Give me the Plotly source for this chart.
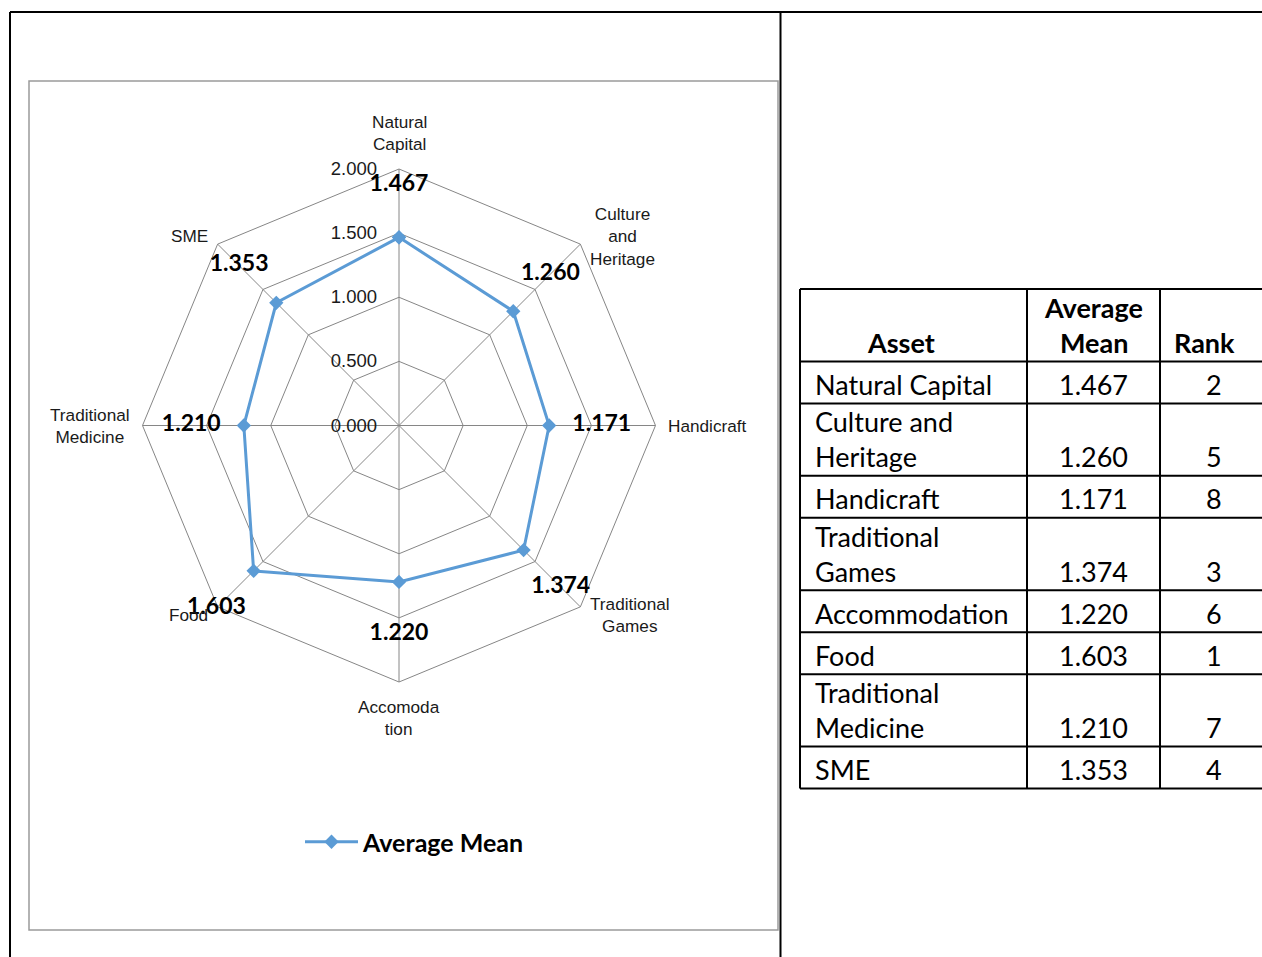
import math
import plotly.graph_objects as go

# ---- data -------------------------------------------------------------
axis_labels = ["Natural<br>Capital", "Culture<br>and<br>Heritage", "Handicraft",
               "Traditional<br>Games", "Accomoda<br>tion", "Food",
               "Traditional<br>Medicine", "SME"]
table_assets = ["Natural Capital", "Culture and<br>Heritage", "Handicraft",
                "Traditional<br>Games", "Accommodation", "Food",
                "Traditional<br>Medicine", "SME"]
avg_mean = [1.467, 1.260, 1.171, 1.374, 1.220, 1.603, 1.210, 1.353]
rank = [2, 5, 8, 3, 6, 1, 7, 4]
radial_ticks = [0.0, 0.5, 1.0, 1.5, 2.0]
radial_max = 2.0
header = ["Asset", "Average<br>Mean", "Rank"]

# ---- page geometry (pixels) -------------------------------------------
W, H = 1262, 957
BLUE = "#5B9BD5"
GRID = "#868686"
TXT = "#1a1a1a"
cx, cy, R = 399, 425.5, 256.5
overlay_k = 1.2   # label layer: same centre and scale, wider reach


def px(x):
    return x / W


def py(y):
    return 1 - y / H


def square_domain(radius):
    return dict(x=[px(cx - radius), px(cx + radius)],
                y=[py(cy + radius), py(cy - radius)])


fig = go.Figure()

# closed data polygon
fig.add_trace(go.Scatterpolar(
    r=avg_mean + avg_mean[:1],
    theta=axis_labels + axis_labels[:1],
    mode="lines+markers",
    name="Average Mean",
    line=dict(color=BLUE, width=3),
    marker=dict(symbol="diamond", size=11, color=BLUE),
))

# bold value labels pushed out along each spoke (drawn on the label layer)
label_offset = 0.41
fig.add_trace(go.Scatterpolar(
    r=[v + label_offset for v in avg_mean],
    theta=axis_labels,
    subplot="polar2",
    mode="text",
    text=[f"{v:.3f}" for v in avg_mean],
    textfont=dict(family="Lato", size=23, color="#000000", weight="bold"),
    textposition="middle center",
    showlegend=False,
    hoverinfo="skip",
))

angular_common = dict(type="category", categoryarray=axis_labels,
                      direction="clockwise", rotation=90)

fig.update_layout(
    width=W, height=H,
    margin=dict(l=0, r=0, t=0, b=0),
    paper_bgcolor="white",
    showlegend=True,
    legend=dict(orientation="h", x=px(300), y=py(842), xanchor="left",
                yanchor="middle", itemwidth=53,
                font=dict(family="Lato", size=25, color="#000000", weight="bold"),
                bgcolor="rgba(0,0,0,0)"),
    polar=dict(
        domain=square_domain(R),
        gridshape="linear",
        bgcolor="white",
        angularaxis=dict(
            **angular_common,
            showline=True, linecolor=GRID, linewidth=1,
            gridcolor=GRID, gridwidth=1, ticks="", showticklabels=False,
        ),
        radialaxis=dict(
            range=[0, radial_max], tickvals=radial_ticks, tickformat=".3f",
            angle=90, side="counterclockwise", showline=False,
            gridcolor=GRID, gridwidth=1, tickangle=90,
            ticks="outside", ticklen=15, tickcolor="rgba(0,0,0,0)",
            tickfont=dict(family="Liberation Sans", size=18.5, color=TXT),
        ),
    ),
    polar2=dict(
        domain=square_domain(R * overlay_k),
        gridshape="linear",
        bgcolor="rgba(0,0,0,0)",
        angularaxis=dict(**angular_common, visible=False),
        radialaxis=dict(range=[0, radial_max * overlay_k], visible=False),
    ),
)

annotations = []

# category names just outside each outer vertex
n_cat = len(axis_labels)
for k, lab in enumerate(axis_labels):
    ang = math.radians(90 - 360 * k / n_cat)
    c, s = math.cos(ang), math.sin(ang)
    vx, vy = cx + R * c, cy - R * s
    if abs(c) < 0.1:
        xa, xan = vx, "center"
        if s > 0:
            ya, yan = vy - 13, "bottom"
        else:
            ya, yan = vy + 13, "top"
    else:
        xa = vx + 10.5 * c
        xan = "left" if c > 0 else "right"
        ya, yan = vy - 11 * s, "middle"
    annotations.append(dict(xref="paper", yref="paper", x=px(xa), y=py(ya),
                            xanchor=xan, yanchor=yan, align="center", text=lab,
                            showarrow=False,
                            font=dict(family="Liberation Sans", size=17.2, color=TXT)))

shapes = []
# page frame
for x0, y0, x1, y1 in [(10, 12, 1262, 12), (10, 12, 10, 957), (780.5, 12, 780.5, 957)]:
    shapes.append(dict(type="line", xref="paper", yref="paper",
                       x0=px(x0), y0=py(y0), x1=px(x1), y1=py(y1),
                       line=dict(color="#000000", width=2)))
# chart area border
shapes.append(dict(type="rect", xref="paper", yref="paper",
                   x0=px(29), y0=py(930), x1=px(778), y1=py(81),
                   line=dict(color="#9a9a9a", width=1.5)))

# ---- table ------------------------------------------------------------
col_edges = [800, 1027, 1160, 1270]
tbl_top = 289
line_step = 35
TFONT = dict(family="Lato", size=27, color="#000000")


def row_height(n):
    return 11.6 + 30.4 * n


rows = [(header, True)] + [
    ([a, f"{m:.3f}", str(k)], False) for a, m, k in zip(table_assets, avg_mean, rank)
]
y = tbl_top
row_tops = []
for cells, is_head in rows:
    n = max(c.count("<br>") + 1 for c in cells)
    h = row_height(n)
    row_tops.append(y)
    bottom = y + h
    for ci, cell in enumerate(cells):
        lines = cell.split("<br>")
        # text sits on the bottom of its cell
        for li, txt in enumerate(lines):
            yc = bottom - 19 - line_step * (len(lines) - 1 - li)
            if ci == 0 and not is_head:
                xa, anchor = col_edges[0] + 13, "left"
            elif ci == 2 and is_head:
                xa, anchor = col_edges[2] + 12, "left"
            elif ci == 0:
                xa, anchor = 901, "center"
            else:
                xa, anchor = (col_edges[ci] + col_edges[ci + 1]) / 2, "center"
                if ci == 2:
                    xa = 1214
            f = dict(TFONT)
            if is_head:
                f["weight"] = "bold"
            annotations.append(dict(xref="paper", yref="paper", x=px(xa), y=py(yc),
                                    xanchor=anchor, yanchor="middle", text=txt,
                                    showarrow=False, font=f))
    y = bottom
row_tops.append(y)
tbl_bottom = y

for ry in row_tops:
    shapes.append(dict(type="line", xref="paper", yref="paper",
                       x0=px(col_edges[0]), x1=px(col_edges[-1]), y0=py(ry), y1=py(ry),
                       line=dict(color="#000000", width=2)))
for cxe in col_edges:
    shapes.append(dict(type="line", xref="paper", yref="paper",
                       x0=px(cxe), x1=px(cxe), y0=py(tbl_top), y1=py(tbl_bottom),
                       line=dict(color="#000000", width=2)))

fig.update_layout(shapes=shapes, annotations=annotations)
fig.write_html("out.html")
